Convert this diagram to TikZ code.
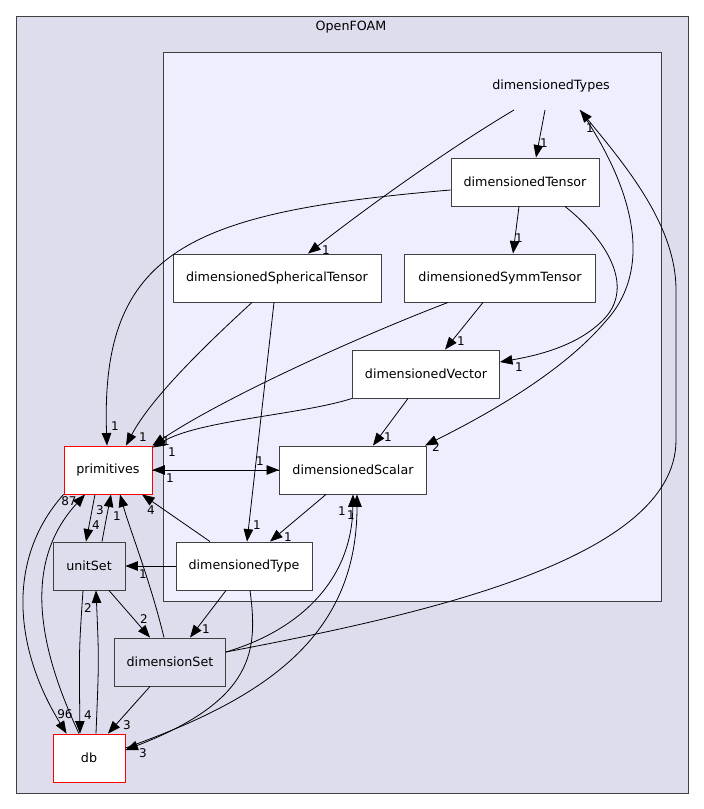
\documentclass[tikz,border=0pt]{standalone}
\usepackage{fontspec}
\setmainfont{DejaVu Sans}
\usetikzlibrary{arrows.meta}
\definecolor{outerfill}{HTML}{DDDDEE}
\definecolor{innerfill}{HTML}{EEEEFF}
\definecolor{boxline}{HTML}{404040}
\tikzset{
  dirbox/.style={draw=boxline, fill=white, line width=0.9pt, minimum height=48pt,
    inner sep=0pt, font=\fontsize{12.7}{14}\selectfont},
  dirgrey/.style={dirbox, fill=outerfill},
  dirred/.style={dirbox, draw=red},
  dep/.style={-{Triangle[length=12.5pt,width=9.5pt]}, line width=0.8pt},
  num/.style={font=\fontsize{12}{13}\selectfont, inner sep=0pt}
}
\begin{document}
\begin{tikzpicture}[x=1pt,y=-1pt]
\useasboundingbox (0,0) rectangle (704,809);
% clusters
\draw[boxline, fill=outerfill, line width=1pt] (16,16) rectangle (688,793);
\node[font=\fontsize{12.7}{14}\selectfont] (openfoam) at (351,27) {OpenFOAM};
\draw[boxline, fill=innerfill, line width=1pt] (163,52) rectangle (661,601);
\node[font=\fontsize{12.7}{14}\selectfont] (dtypeslabel) at (551,86) {dimensionedTypes};
\coordinate (dtypes) at (545,110);

% directories
\node[dirbox, minimum width=148pt] (tensor) at (525,182) {dimensionedTensor};
\node[dirbox, minimum width=208pt] (spherical) at (277,278) {dimensionedSphericalTensor};
\node[dirbox, minimum width=191pt] (symm) at (500,278) {dimensionedSymmTensor};
\node[dirbox, minimum width=147pt] (vector) at (426,374) {dimensionedVector};
\node[dirbox, minimum width=147pt] (scalar) at (353,470) {dimensionedScalar};
\node[dirbox, minimum width=136pt] (type) at (244,566) {dimensionedType};
\node[dirred, minimum width=88pt] (primitives) at (108,470) {primitives};
\node[dirgrey, minimum width=72pt] (unitset) at (89,566) {unitSet};
\node[dirgrey, minimum width=111pt] (dimset) at (170,662) {dimensionSet};
\node[dirred, minimum width=72pt] (db) at (89,758) {db};

% dependencies
\draw[dep] (dtypes) -- ([xshift=11pt]tensor.north) node[num] at (544,143) {1};
\draw[dep] ([xshift=-31pt]dtypes) .. controls (450,148) and (370,205) .. ([xshift=31pt]spherical.north)
  node[num] at (326,250) {1};
\draw[dep] ([xshift=35pt]dtypes) .. controls (628,180) and (658,265) .. (605,322)
  .. controls (560,375) and (480,418) .. ([xshift=72pt]scalar.north) node[num] at (436,447) {2};
\draw[dep] ([yshift=10pt]dimset.east) .. controls (420,615) and (676,560) .. (676,440)
  -- (676,290) .. controls (676,225) and (625,165) .. ([xshift=35pt]dtypes) node[num] at (590,128) {1};

\draw[dep] ([yshift=-8pt]tensor.west) .. controls (190,212) and (100,250) .. ([xshift=-1pt]primitives.north)
  node[num] at (115,426) {1};
\draw[dep] ([xshift=-6pt]tensor.south) -- ([xshift=13pt]symm.north) node[num] at (519,238) {1};
\draw[dep] ([xshift=40pt]tensor.south) .. controls (605,238) and (635,285) .. (605,318)
  .. controls (580,345) and (540,355) .. ([yshift=12pt]vector.east) node[num] at (519,367) {1};

\draw[dep] ([xshift=-25pt]spherical.south) .. controls (200,350) and (150,400) .. ([xshift=18pt]primitives.north)
  node[num] at (143,437) {1};
\draw[dep] ([xshift=-3pt]spherical.south) -- ([xshift=3pt]type.north) node[num] at (257,525) {1};
\draw[dep] ([xshift=-52pt]symm.south) .. controls (350,340) and (220,400) .. (primitives.north east)
  node[num] at (166,441) {1};
\draw[dep] ([xshift=-17pt]symm.south) -- ([xshift=19pt]vector.north) node[num] at (461,341) {1};
\draw[dep] (vector.south west) .. controls (300,415) and (200,420) .. ([yshift=-2pt]primitives.north east)
  node[num] at (172,452) {1};
\draw[dep] ([xshift=-18pt]vector.south) -- ([xshift=20pt]scalar.north) node[num] at (388,437) {1};

\draw[dep] (primitives.east) -- (scalar.west) node[num] at (260,461) {1};
\draw[dep] (scalar.west) -- (primitives.east) node[num] at (170,478) {1};
\draw[dep] ([xshift=-27pt]scalar.south) -- ([xshift=26pt]type.north) node[num] at (288,537) {1};

\draw[dep] ([xshift=-34pt]type.north) -- ([xshift=34pt]primitives.south) node[num] at (151,510) {4};
\draw[dep] (type.west) -- (unitset.east) node[num] at (143,574) {1};
\draw[dep] ([xshift=-18pt]type.south) -- ([xshift=20pt]dimset.north) node[num] at (206,629) {1};
\draw[dep] ([xshift=6pt]type.south) .. controls (258,650) and (255,700) .. ([yshift=8pt]db.east)
  node[num] at (143,753) {3};
\draw[dep] ([yshift=10pt]db.east) .. controls (260,700) and (357,640) .. ([xshift=4pt]scalar.south)
  node[num] at (351,515) {1};
\draw[dep] ([yshift=10pt]dimset.east) .. controls (300,630) and (352,580) .. (scalar.south)
  node[num] at (342,511) {1};

\draw[dep] ([xshift=-13pt]primitives.south) -- ([xshift=-3pt]unitset.north) node[num] at (96,525) {4};
\draw[dep] ([xshift=13pt]unitset.north) .. controls (106,520) .. ([xshift=3pt]primitives.south)
  node[num] at (100,510) {3};
\draw[dep] ([xshift=-6pt]dimset.north) .. controls (150,580) and (130,530) .. ([xshift=12pt]primitives.south)
  node[num] at (117,516) {1};
\draw[dep] (primitives.south west) .. controls (5,560) and (15,650) .. ([xshift=14pt]db.north west)
  node[num] at (65,714) {96};
\draw[dep] ([xshift=-10pt]db.north) .. controls (35,640) and (25,560) .. ([xshift=-23pt]primitives.south)
  node[num] at (69,501) {87};
\draw[dep] ([xshift=-6pt]unitset.south) .. controls (79,650) .. ([xshift=-9pt]db.north)
  node[num] at (88,715) {4};
\draw[dep] ([xshift=7pt]db.north) .. controls (99,660) .. ([xshift=7pt]unitset.south)
  node[num] at (88,608) {2};
\draw[dep] ([xshift=20pt]unitset.south) -- ([xshift=-20pt]dimset.north) node[num] at (144,619) {2};
\draw[dep] ([xshift=-20pt]dimset.south) -- ([xshift=19pt]db.north) node[num] at (127,725) {3};
\end{tikzpicture}
\end{document}
